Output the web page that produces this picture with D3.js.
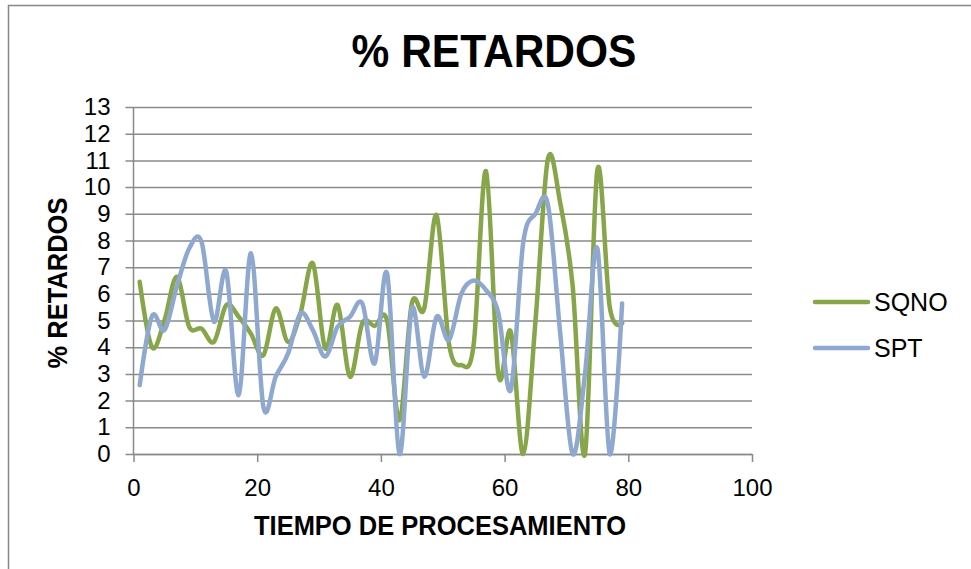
<!DOCTYPE html>
<html>
<head>
<meta charset="utf-8">
<script src="https://cdn.jsdelivr.net/npm/d3@7.9.0/dist/d3.min.js"></script>
<style>
  body { margin: 0; background: #fff; }
  svg text { font-family: "Liberation Sans", Arial, sans-serif; fill: #000; }
</style>
</head>
<body>
<svg id="chart" width="971" height="569"></svg>
<script>
// chart data (x = tiempo de procesamiento, odd steps)
const tiempos = d3.range(1, 80, 2);
const sqno = [6.45, 4.0, 5.0, 6.64, 4.77, 4.7, 4.2, 5.58, 5.14, 4.5,
              3.7, 5.45, 4.2, 5.27, 7.14, 3.96, 5.58, 2.9, 4.9, 4.8,
              5.0, 1.27, 5.64, 5.45, 8.95, 4.14, 3.33, 4.1, 10.6, 2.96,
              4.58, 0.0, 5.0, 11.05, 9.4, 6.3, 0.0, 10.65, 5.5, 4.9];
const spt = [2.58, 5.17, 4.64, 6.27, 7.7, 7.95, 4.96, 6.83, 2.21, 7.52,
             1.77, 2.9, 3.77, 5.27, 4.64, 3.65, 4.77, 5.14, 5.64, 3.4,
             6.77, 0.0, 5.45, 2.9, 5.14, 4.27, 6.0, 6.5, 6.14, 5.27,
             2.4, 7.9, 9.0, 9.35, 4.5, 0.0, 3.0, 7.7, 0.0, 5.64];
const seriesNames = ["SQNO", "SPT"];
const colors = ["#87a64a", "#8fa8cf"];
const yTicks = d3.range(0, 14);
const xTicks = [0, 20, 40, 60, 80, 100];

const svg = d3.select("#chart");

// outer chart border
svg.append("rect")
  .attr("x", 8.5).attr("y", 5.5)
  .attr("width", 1000).attr("height", 600)
  .attr("fill", "none").attr("stroke", "#868686").attr("stroke-width", 1.5);

const plot = { left: 133.5, right: 752, top: 107, bottom: 454 };

const x = d3.scaleLinear().domain([0, 100]).range([plot.left, plot.right]);
const y = d3.scaleLinear().domain([0, 13]).range([plot.bottom, plot.top]);

// gridlines + y axis
const yAxis = svg.append("g")
  .attr("transform", `translate(${plot.left},0)`)
  .call(d3.axisLeft(y).tickValues(yTicks).tickSizeInner(-(plot.right - plot.left)).tickSizeOuter(0).tickPadding(23));
yAxis.select(".domain").remove();
yAxis.selectAll(".tick line")
  .attr("x1", -8)
  .attr("stroke", "#8a8a8a").attr("stroke-width", 1.5);
yAxis.selectAll(".tick text").attr("font-size", 24).attr("fill", "#000");

svg.append("line")
  .attr("x1", plot.left).attr("x2", plot.left)
  .attr("y1", plot.top).attr("y2", plot.bottom)
  .attr("stroke", "#8a8a8a").attr("stroke-width", 1.5);

// x axis
const xAxis = svg.append("g")
  .attr("transform", `translate(0,${plot.bottom})`)
  .call(d3.axisBottom(x).tickValues(xTicks).tickSize(8).tickSizeOuter(0).tickPadding(17));
xAxis.select(".domain").attr("stroke", "#8a8a8a").attr("stroke-width", 1.5);
xAxis.selectAll(".tick line").attr("stroke", "#8a8a8a").attr("stroke-width", 1.5);
xAxis.selectAll(".tick text").attr("font-size", 24).attr("fill", "#000");

// series lines
const line = d3.line()
  .x((d, i) => x(tiempos[i]))
  .y(d => y(d))
  .curve(d3.curveCardinal.tension(0));

[sqno, spt].forEach((vals, k) => {
  svg.append("path")
    .datum(vals)
    .attr("d", line)
    .attr("fill", "none")
    .attr("stroke", colors[k])
    .attr("stroke-width", 4.5)
    .attr("stroke-linejoin", "round")
    .attr("stroke-linecap", "round");
});

// titles (slightly taller than wide, as in the original)
svg.append("text")
  .attr("transform", "translate(494,67) scale(1,1.1)")
  .attr("text-anchor", "middle")
  .attr("font-size", 42.5).attr("font-weight", "bold")
  .text("% RETARDOS");

svg.append("text")
  .attr("transform", "translate(440,535) scale(1,1.1)")
  .attr("text-anchor", "middle")
  .attr("font-size", 25.5).attr("font-weight", "bold")
  .text("TIEMPO DE PROCESAMIENTO");

svg.append("text")
  .attr("transform", "translate(67,283) rotate(-90) scale(1,1.1)")
  .attr("text-anchor", "middle")
  .attr("font-size", 25.5).attr("font-weight", "bold")
  .text("% RETARDOS");

// legend
const legend = svg.append("g");
seriesNames.forEach((name, k) => {
  const ly = 302 + k * 46;
  legend.append("line")
    .attr("x1", 815).attr("x2", 868)
    .attr("y1", ly).attr("y2", ly)
    .attr("stroke", colors[k]).attr("stroke-width", 4.5)
    .attr("stroke-linecap", "round");
  legend.append("text")
    .attr("x", 874).attr("y", ly + 9)
    .attr("font-size", 25)
    .text(name);
});
</script>
</body>
</html>
